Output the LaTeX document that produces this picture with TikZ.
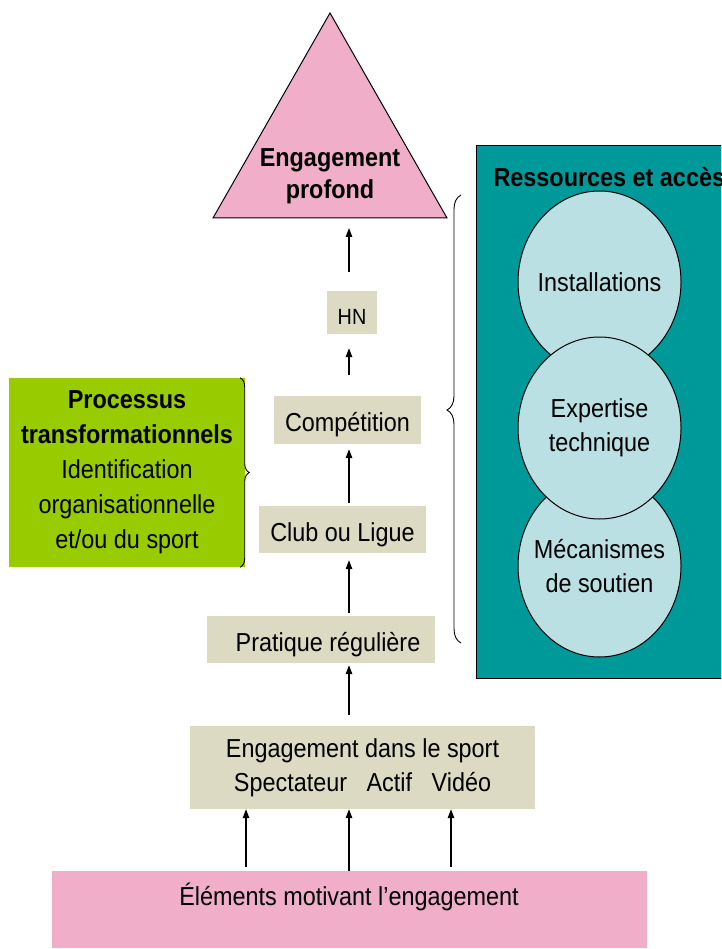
\documentclass[tikz,border=0pt]{standalone}
\usepackage{fontspec}
\setmainfont{Liberation Sans}[FakeStretch=0.9]
\usetikzlibrary{arrows.meta,shapes.geometric,decorations.pathreplacing}

\definecolor{stagetan}{HTML}{DCDAC2}
\definecolor{deeppink}{HTML}{F0AEC8}
\definecolor{procgreen}{HTML}{99CC00}
\definecolor{resteal}{HTML}{009999}
\definecolor{reslight}{HTML}{BBE0E3}

\begin{document}
\begin{tikzpicture}[x=1pt, y=-1pt,
    font=\fontsize{26}{34}\selectfont,
    stage/.style={fill=stagetan, inner sep=0pt, text height=23pt, text depth=0pt},
    stagewide/.style={fill=stagetan, inner sep=0pt, align=center},
    arr/.style={-{Triangle[length=9pt,width=6.5pt]}, line width=1.2pt},
    res/.style={ellipse, draw, line width=1pt, fill=reslight, minimum width=163pt,
        minimum height=182pt, inner sep=0pt},
    restext/.style={align=center, inner sep=0pt},
    curly/.style={decorate, decoration={brace, amplitude=#1}, line width=0.9pt}]
    \clip (0,0) rectangle (721,949);

    % ressources et acces
    \node[draw, line width=1.2pt, fill=resteal, minimum width=264pt, minimum height=533pt,
        inner sep=0pt, anchor=north west] (panel) at (476,145) {};
    \node[font=\fontsize{26}{34}\selectfont\bfseries, anchor=base west] (restitle) at (490,187) {Ressources et accès};
    \node[res] (inst) at (599.5,282) {};
    \node[res] (meca) at (599.5,566) {};
    \node[res] (expe) at (599.5,428) {};
    \node[restext] (insttext) at (inst) {Installations};
    \node[restext] (mecatext) at (meca) {Mécanismes\\de soutien};
    \node[restext] (expetext) at (expe) {Expertise\\technique};
    \draw[curly=14pt, decoration={aspect=0.52}] (461,643) -- (461,195);

    % sommet
    \filldraw[fill=deeppink, line width=1pt] (330,13) -- (447,218) -- (213,218) -- cycle;
    \node[font=\fontsize{26}{32}\selectfont\bfseries, align=center] (deep) at (330,176) {Engagement\\profond};
    \coordinate (tribase) at (349,218);

    % etapes
    \node[stage, minimum width=50pt, minimum height=43pt, font=\fontsize{22}{30}\selectfont] (hn) at (352,312.5) {HN};
    \node[stage, minimum width=147pt, minimum height=48pt] (comp) at (347.5,420) {Compétition};
    \node[stage, minimum width=167pt, minimum height=47pt] (club) at (342.5,529.5) {Club ou Ligue};
    \node[stage, minimum width=228pt, minimum height=47pt] (prat) at (321,639.5) {\hspace*{14pt}Pratique régulière};
    \node[stagewide, minimum width=345pt, minimum height=83pt] (eng) at (362.5,767.5)
        {Engagement dans le sport\\Spectateur~~~Actif~~~Vidéo};
    \node[fill=deeppink, minimum width=595pt, minimum height=77pt, inner sep=0pt] (elem) at (349.5,909.5) {};
    \node[anchor=base] (elemtext) at (349,905) {Éléments motivant l’engagement};

    % processus
    \node[fill=procgreen, minimum width=236pt, minimum height=189pt, inner sep=0pt, align=center,
        font=\fontsize{26}{35}\selectfont] (proc) at (127,472.5)
        {\textbf{Processus}\\\textbf{transformationnels}\\Identification\\organisationnelle\\et/ou du sport};
    \draw[curly=9pt] ([xshift=-5pt]proc.north east) -- ([xshift=-5pt]proc.south east);

    % fleches
    \coordinate (axis) at (349,0);
    \coordinate (specin) at (246,0);
    \coordinate (videoin) at (451,0);
    \draw[arr, shorten <=11pt, shorten >=2pt] (eng.north -| axis) -- (prat.south -| axis);
    \draw[arr, shorten <=3pt, shorten >=7pt] (prat.north -| axis) -- (club.south -| axis);
    \draw[arr, shorten <=3pt, shorten >=5pt] (club.north -| axis) -- (comp.south -| axis);
    \draw[arr, shorten <=21pt, shorten >=14pt] (comp.north -| axis) -- (hn.south -| axis);
    \draw[arr, shorten <=19pt, shorten >=10pt] (hn.north -| axis) -- (tribase);
    \draw[arr, shorten <=4pt] (elem.north -| specin) -- (eng.south -| specin);
    \draw[arr] (elem.north -| axis) -- (eng.south -| axis);
    \draw[arr, shorten <=4pt] (elem.north -| videoin) -- (eng.south -| videoin);
\end{tikzpicture}
\end{document}
